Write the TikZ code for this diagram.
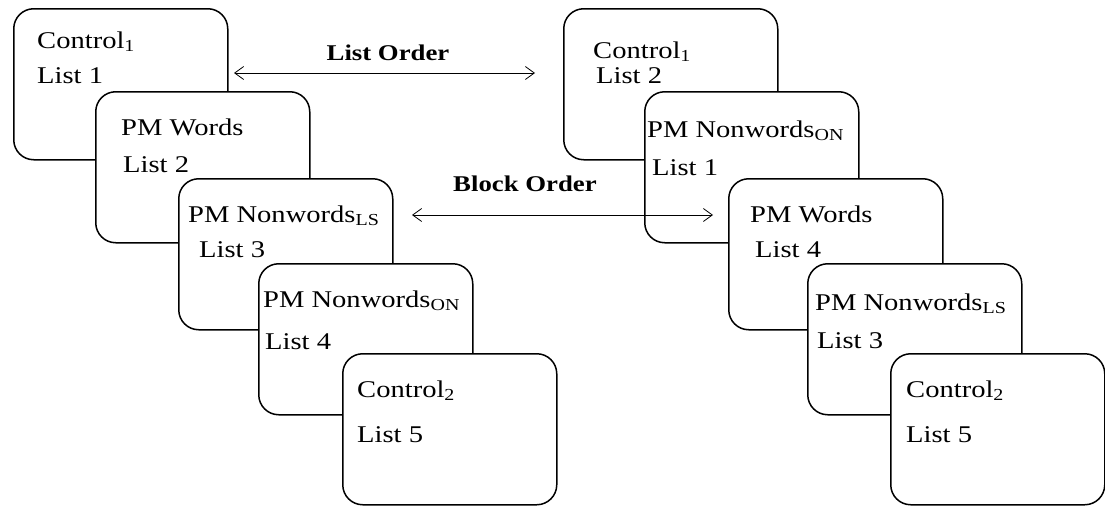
\documentclass[tikz,border=0pt]{standalone}
\usepackage{fontspec}
\setmainfont{Liberation Serif}[FakeStretch=1.19]
\usetikzlibrary{arrows.meta}

\tikzset{
    card/.style={draw, line width=1.5pt, fill=white, rounded corners=20pt,
        minimum width=214pt, minimum height=151pt, inner sep=0pt, anchor=north west},
    item/.style={anchor=base west, inner sep=0pt, font=\fontsize{24}{28}\selectfont},
    order/.style={anchor=base, inner sep=0pt, font=\fontsize{22.5}{27}\selectfont\bfseries},
    swap/.style={line width=0.8pt, {Straight Barb[length=9pt,width=13pt]}-{Straight Barb[length=9pt,width=13pt]}}
}

\begin{document}
\begin{tikzpicture}[x=1pt,y=-1pt]
        \useasboundingbox (0,0) rectangle (1105,506);

        % Left stack of blocks
        \node[card] (L1) at (13,8) {};
        \node[item] (L1a) at (37,48) {Control\textsubscript{1}};
        \node[item] (L1b) at (37,83) {List 1};
        \node[card] (L2) at (95,91) {};
        \node[item] (L2a) at (121,135) {PM Words};
        \node[item] (L2b) at (123,172) {List 2};
        \node[card] (L3) at (178,178) {};
        \node[item] (L3a) at (188,222) {PM Nonwords\textsubscript{LS}};
        \node[item] (L3b) at (199,257) {List 3};
        \node[card] (L4) at (258,263) {};
        \node[item] (L4a) at (263,307) {PM Nonwords\textsubscript{ON}};
        \node[item] (L4b) at (265,349) {List 4};
        \node[card] (L5) at (342,353) {};
        \node[item] (L5a) at (357,397) {Control\textsubscript{2}};
        \node[item] (L5b) at (357,442) {List 5};

        % Right stack of blocks
        \node[card] (R1) at (563,8) {};
        \node[item] (R1a) at (593,58) {Control\textsubscript{1}};
        \node[item] (R1b) at (596,83) {List 2};
        \node[card] (R2) at (644,91) {};
        \node[item] (R2a) at (647,137) {PM Nonwords\textsubscript{ON}};
        \node[item] (R2b) at (652,175) {List 1};
        \node[card] (R3) at (728,178) {};
        \node[item] (R3a) at (750,222) {PM Words};
        \node[item] (R3b) at (755,257) {List 4};
        \node[card] (R4) at (807,263) {};
        \node[item] (R4a) at (815,310) {PM Nonwords\textsubscript{LS}};
        \node[item] (R4b) at (817,348) {List 3};
        \node[card] (R5) at (890,353) {};
        \node[item] (R5a) at (906,397) {Control\textsubscript{2}};
        \node[item] (R5b) at (906,442) {List 5};

        % Order arrows
        \coordinate (LOa) at (234,73);
        \coordinate (LOb) at (535,73);
        \coordinate (BOa) at (412,215);
        \coordinate (BOb) at (713,215);
        \draw[swap] (LOa) -- (LOb);
        \draw[swap] (BOa) -- (BOb);
        \node[order] (LO) at (388,60) {List Order};
        \node[order] (BO) at (525,191) {Block Order};
    \end{tikzpicture}
\end{document}
